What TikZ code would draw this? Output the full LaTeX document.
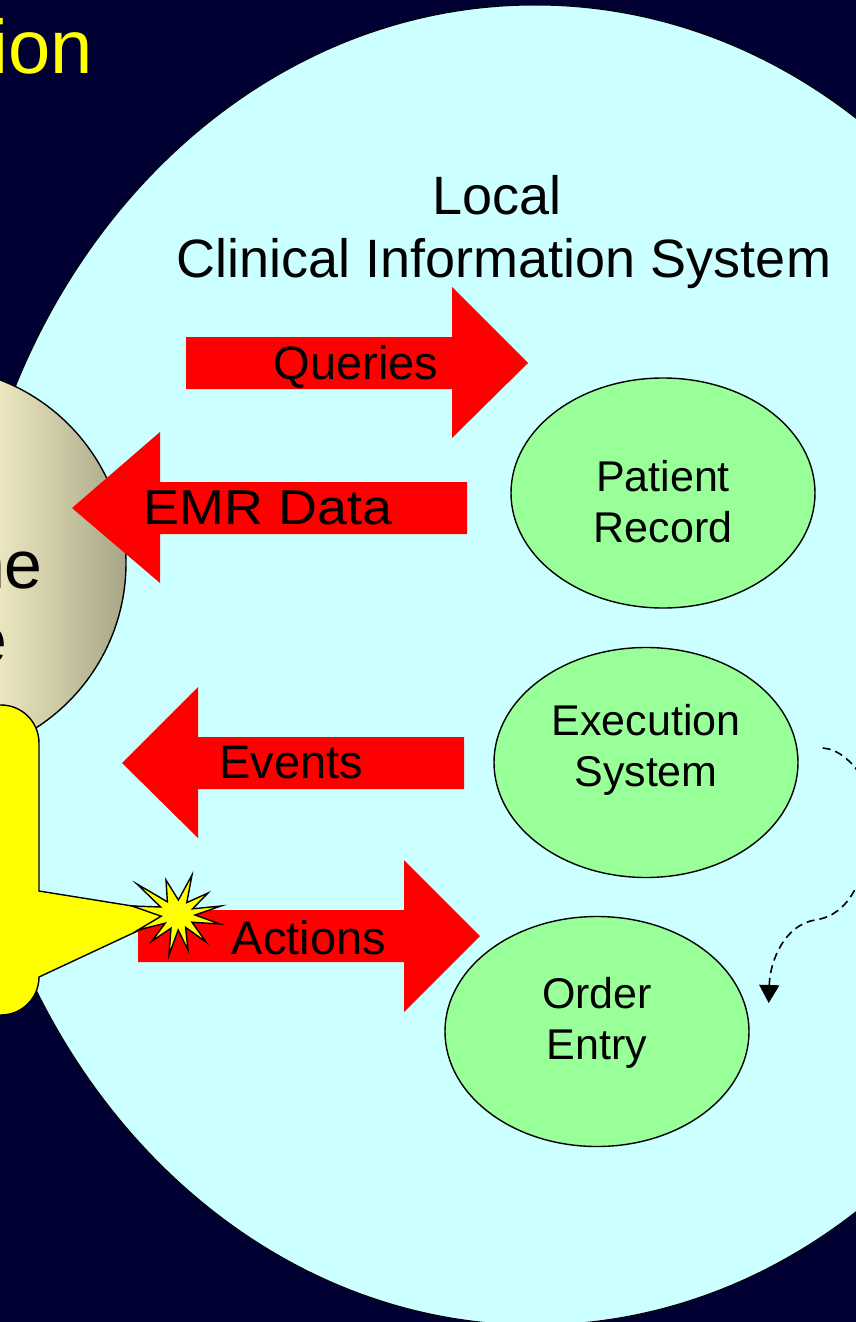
\documentclass[tikz,border=0pt]{standalone}
\usepackage{fontspec}
\setmainfont{Liberation Sans}
\usetikzlibrary{shapes.geometric,arrows.meta,calc}
\definecolor{navybg}{HTML}{000033}
\definecolor{cisblue}{HTML}{CCFFFF}
\definecolor{modgreen}{HTML}{99FF99}
\definecolor{arrowred}{HTML}{FF0000}
\definecolor{calloutyellow}{HTML}{FFFF00}
\definecolor{tanL}{HTML}{ECE7C0}
\definecolor{tanR}{HTML}{A6A586}
\tikzset{
  bigfield/.style={ellipse, draw=black, line width=1pt, fill=cisblue,
    minimum width=1146pt, minimum height=1320pt, inner sep=0pt},
  person/.style={circle, draw=black, line width=1.4pt, minimum size=392pt, inner sep=0pt},
  module/.style={ellipse, draw=black, line width=1.4pt, fill=modgreen,
    minimum width=304pt, minimum height=230pt, inner sep=0pt},
  modtext/.style={font=\fontsize{43}{51}\selectfont, align=center, inner sep=0pt},
  flow/.style={fill=arrowred},
  flowtext/.style={font=\fontsize{47}{56}\selectfont, inner sep=0pt, anchor=base},
  titletext/.style={font=\fontsize{54}{63}\selectfont, inner sep=0pt, anchor=base},
  bigtext/.style={font=\fontsize{68}{75}\selectfont, inner sep=0pt, anchor=base east},
  callout/.style={fill=calloutyellow, draw=black, line width=1.4pt, line join=miter},
  burst/.style={fill=calloutyellow, draw=black, line width=1.4pt, line join=miter},
  dashconn/.style={draw=black, line width=1.6pt, dash pattern=on 8pt off 5pt,
    -{Triangle[width=20pt,length=18pt]}}
}
\begin{document}
\begin{tikzpicture}[x=1pt,y=-1pt]
\useasboundingbox (0,0) rectangle (856,1322);
\fill[navybg] (0,0) rectangle (856,1322);

% large system ellipse
\node[bigfield] (cis) at (535,665) {};

% clinician circle (gradient across its visible part)
\begin{scope}
  \clip (-70,563) circle [radius=196];
  \shade[left color=tanL, right color=tanR] (-2,360) rectangle (128,770);
\end{scope}
\node[person] (clin) at (-70,563) {};
\node[bigtext] (clinA) at (43,588) {ne};
\node[bigtext] (clinB) at (8,663) {e};

% red block arrows
\fill[flow] (186,337) -- (452,337) -- (452,287) -- (528,363) -- (452,438) -- (452,389) -- (186,389) -- cycle;
\node[flowtext] (qtext) at (356,379) {Queries};

\fill[flow] (467,482) -- (160,482) -- (160,432) -- (72,508) -- (160,583) -- (160,534) -- (467,534) -- cycle;
\node[flowtext] (etext) at (268,524) {\scalebox{1.1}[1]{\fontsize{49}{56}\selectfont EMR Data}};

\fill[flow] (464,737) -- (198,737) -- (198,687) -- (122,763) -- (198,838) -- (198,789) -- (464,789) -- cycle;
\node[flowtext] (evtext) at (291,778) {Events};

\fill[flow] (138,910) -- (404,910) -- (404,860) -- (480,936) -- (404,1012) -- (404,962) -- (138,962) -- cycle;
\node[flowtext] (atext) at (309,954) {Actions};

% yellow callout
\path[callout] (-100,705) -- (1,705) .. controls (22,705) and (39,722) .. (39,743)
  -- (39,891) -- (176,913) -- (39,977)
  .. controls (39,998) and (22,1015) .. (1,1015) -- (-100,1015) -- cycle;

% starburst
\path[burst] (137,884) -- (167.4,901.8) -- (166,880) -- (178.4,900) -- (192,875)
  -- (186.8,902.6) -- (208,893) -- (192.6,908.8) -- (221,906) -- (195,915)
  -- (220,924) -- (192,922.2) -- (206,942) -- (185.6,927.4) -- (188,950)
  -- (178.2,930) -- (169,955) -- (171,928.2) -- (152,941) -- (165.2,923.2)
  -- (138,930) -- (161.2,916.2) -- (132,906) -- (160.6,907) -- cycle;

% modules
\node[module] (pr) at (663,493) {};
\node[modtext] (prt) at (663,501.5) {Patient\\Record};
\node[module] (ex) at (646,762.5) {};
\node[modtext] (ext) at (646,750) {Execution\\System};
\node[module] (oe) at (597,1031.5) {};
\node[modtext] (oet) at (597,1023) {Order\\Entry};

% dashed connector
\coordinate (ds) at ($(ex.east)+(24,-14.5)$);
\coordinate (de) at ($(oe.east)+(19,-28.5)$);
\draw[dashconn] (ds) .. controls (852,750) and (882,795) .. (872,840)
  .. controls (862,880) and (850,915) .. (815,920)
  .. controls (785,925) and (770,960) .. (de);

% titles
\node[titletext] (t1) at (497,214) {Local};
\node[titletext] (t2) at (504,277) {Clinical Information System};
\node[font=\fontsize{76}{80}\selectfont, text=calloutyellow, inner sep=0pt, anchor=base east] (head) at (93,74) {ion};
\end{tikzpicture}
\end{document}
